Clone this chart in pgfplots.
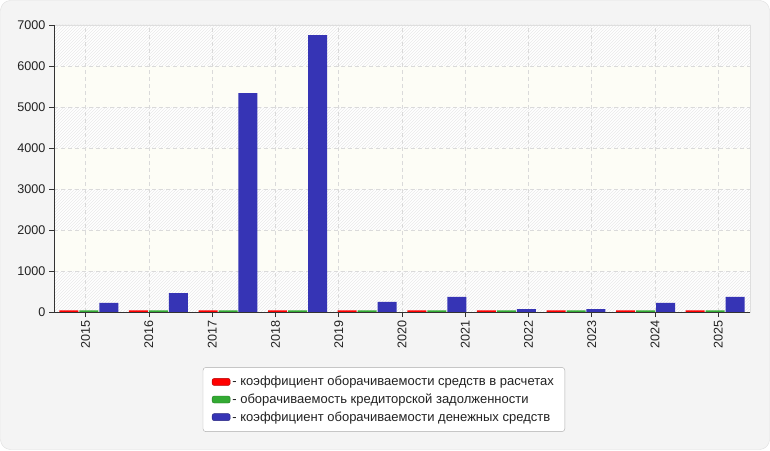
\documentclass[border=0pt]{standalone}
\usepackage{fontspec}
\setmainfont{Liberation Sans}
\usepackage{pgfplots}
\pgfplotsset{compat=1.18}
\usetikzlibrary{patterns}
\definecolor{cred}{RGB}{255,0,0}
\definecolor{cgreen}{RGB}{51,170,51}
\definecolor{cblue}{RGB}{54,52,181}
\definecolor{bgout}{RGB}{244,244,244}
\definecolor{bordc}{RGB}{222,222,222}
\definecolor{bandc}{RGB}{253,253,246}
\definecolor{hatchc}{RGB}{234,234,234}
\definecolor{gridc}{RGB}{218,218,218}
\definecolor{axc}{RGB}{51,51,51}
\definecolor{legb}{RGB}{170,170,170}
\definecolor{textc}{RGB}{34,34,34}
\begin{document}
\begin{tikzpicture}[x=1pt,y=1pt]
\useasboundingbox (0,0) rectangle (770,450);
\fill[bgout, draw=bordc, rounded corners=10pt] (0.5,0.5) rectangle (769.5,449.5);
% alternating background bands of the plot area
\foreach \k in {0,2,4,6} {
  \fill[white] (54,{138+\k*41}) rectangle (750,{138+(\k+1)*41});
  \fill[pattern=north east lines, pattern color=hatchc] (54,{138+\k*41}) rectangle (750,{138+(\k+1)*41});
}
\foreach \k in {1,3,5} {
  \fill[bandc] (54,{138+\k*41}) rectangle (750,{138+(\k+1)*41});
}
\begin{axis}[
  at={(54pt,138pt)}, anchor=south west,
  scale only axis, width=696pt, height=287pt,
  xmin=0, xmax=10, ymin=0, ymax=7000,
  ybar,
  legend image code/.code={\draw[#1, rounded corners=2pt] (0pt,-3.5pt) rectangle (18pt,3.5pt);},
  xtick={0.4545,1.3636,2.2727,3.1818,4.0909,5.0,5.9091,6.8182,7.7273,8.6364,9.5455},
  xticklabels={2015,2016,2017,2018,2019,2020,2021,2022,2023,2024,2025},
  ytick={0,1000,2000,3000,4000,5000,6000,7000},
  xtick pos=bottom, ytick pos=left,
  tick align=outside, major tick length=5pt,
  tick style={axc, line width=0.8pt},
  xticklabel style={rotate=90, anchor=east, font=\fontsize{12.6}{14}\selectfont, text=textc},
  yticklabel style={font=\fontsize{12.6}{14}\selectfont, text=textc},
  /pgf/number format/1000 sep={},
  /pgf/number format/assume math mode=true,
  grid=major,
  major grid style={gridc, dash pattern=on 4pt off 3pt, line width=0.8pt},
  axis line style={bordc, line width=0.8pt},
  legend style={at={(axis description cs:0.474,-0.305)}, anchor=center,
    draw=legb, rounded corners=3pt, fill=white,
    font=\fontsize{13}{15}\selectfont, text=textc,
    inner xsep=9pt, inner ysep=7pt, row sep=2.5pt,
    /tikz/every even column/.append style={column sep=2pt}},
  legend cell align=left,
]
\addplot[fill=cred, draw=none, bar width=0.273, bar shift=-0.287, legend image post style={draw=red!70!black}]
  coordinates {(0.5,40) (1.5,40) (2.5,40) (3.5,40) (4.5,40) (5.5,40) (6.5,40) (7.5,40) (8.5,40) (9.5,40)};
\addplot[fill=cgreen, draw=none, bar width=0.273, bar shift=0, legend image post style={draw=cgreen!70!black}]
  coordinates {(0.5,40) (1.5,40) (2.5,40) (3.5,40) (4.5,40) (5.5,40) (6.5,40) (7.5,40) (8.5,40) (9.5,40)};
\addplot[fill=cblue, draw=none, bar width=0.273, bar shift=0.287, legend image post style={draw=cblue!70!black}]
  coordinates {(0.5,220) (1.5,463) (2.5,5340) (3.5,6756) (4.5,244) (5.5,366) (6.5,73) (7.5,73) (8.5,220) (9.5,366)};
\legend{{- коэффициент оборачиваемости средств в расчетах},{- оборачиваемость кредиторской задолженности},{- коэффициент оборачиваемости денежных средств}}
\draw[axc, line width=0.8pt] (rel axis cs:0,1) -- (rel axis cs:0,0) -- (rel axis cs:1,0);
\end{axis}
\end{tikzpicture}
\end{document}
